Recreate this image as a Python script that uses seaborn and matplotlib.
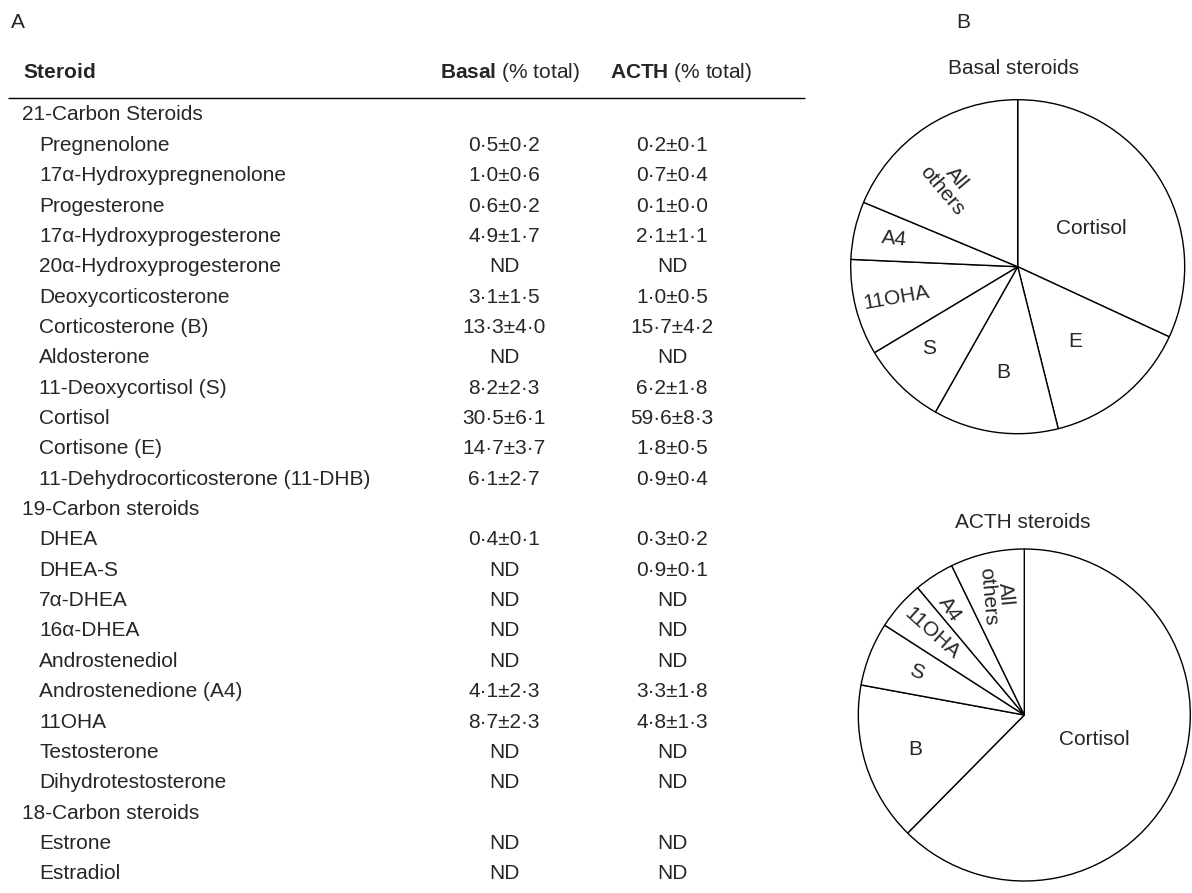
import matplotlib
matplotlib.use("Agg")
import numpy as np
import pandas as pd
import matplotlib.pyplot as plt
import seaborn as sns

# ---------------------------------------------------------------- data
groups = ["21-Carbon Steroids", "19-Carbon steroids", "18-Carbon steroids"]

steroids_21 = ["Pregnenolone", "17\u03b1-Hydroxypregnenolone", "Progesterone",
               "17\u03b1-Hydroxyprogesterone", "20\u03b1-Hydroxyprogesterone",
               "Deoxycorticosterone", "Corticosterone (B)", "Aldosterone",
               "11-Deoxycortisol (S)", "Cortisol", "Cortisone (E)",
               "11-Dehydrocorticosterone (11-DHB)"]
basal_mean_21 = [0.5, 1.0, 0.6, 4.9, None, 3.1, 13.3, None, 8.2, 30.5, 14.7, 6.1]
basal_sd_21 = [0.2, 0.6, 0.2, 1.7, None, 1.5, 4.0, None, 2.3, 6.1, 3.7, 2.7]
acth_mean_21 = [0.2, 0.7, 0.1, 2.1, None, 1.0, 15.7, None, 6.2, 59.6, 1.8, 0.9]
acth_sd_21 = [0.1, 0.4, 0.0, 1.1, None, 0.5, 4.2, None, 1.8, 8.3, 0.5, 0.4]

steroids_19 = ["DHEA", "DHEA-S", "7\u03b1-DHEA", "16\u03b1-DHEA", "Androstenediol",
               "Androstenedione (A4)", "11OHA", "Testosterone",
               "Dihydrotestosterone"]
basal_mean_19 = [0.4, None, None, None, None, 4.1, 8.7, None, None]
basal_sd_19 = [0.1, None, None, None, None, 2.3, 2.3, None, None]
acth_mean_19 = [0.3, 0.9, None, None, None, 3.3, 4.8, None, None]
acth_sd_19 = [0.2, 0.1, None, None, None, 1.8, 1.3, None, None]

steroids_18 = ["Estrone", "Estradiol"]
basal_mean_18 = [None, None]
basal_sd_18 = [None, None]
acth_mean_18 = [None, None]
acth_sd_18 = [None, None]

# pie shares (% of total) for the two conditions
basal_labels = ["Cortisol", "E", "B", "S", "11OHA", "A4", "All\nothers"]
basal_share = [31.9, 14.2, 12.1, 8.2, 9.3, 5.6, 18.7]
acth_labels = ["Cortisol", "B", "S", "11OHA", "A4", "All\nothers"]
acth_share = [62.4, 15.5, 6.2, 4.8, 3.9, 7.2]


def fmt(mean, sd):
    if mean is None:
        return "ND"
    return f"{mean:.1f}\u00b1{sd:.1f}".replace(".", "\u00b7")


rows = []
for grp, names, bm, bs, am, asd in [
        (groups[0], steroids_21, basal_mean_21, basal_sd_21, acth_mean_21, acth_sd_21),
        (groups[1], steroids_19, basal_mean_19, basal_sd_19, acth_mean_19, acth_sd_19),
        (groups[2], steroids_18, basal_mean_18, basal_sd_18, acth_mean_18, acth_sd_18)]:
    rows.append(dict(label=grp, kind="group", basal="", acth=""))
    for n, m1, s1, m2, s2 in zip(names, bm, bs, am, asd):
        rows.append(dict(label=n, kind="item", basal=fmt(m1, s1), acth=fmt(m2, s2)))
table = pd.DataFrame(rows)

# ---------------------------------------------------------------- style
sns.set_theme(style="white")
plt.rcParams["font.family"] = ["Liberation Sans", "DejaVu Sans"]
plt.rcParams["mathtext.fontset"] = "custom"
plt.rcParams["mathtext.rm"] = "Liberation Sans"
plt.rcParams["mathtext.bf"] = "Liberation Sans:bold"

W, H = 1192, 893
FS = 15
fig = plt.figure(figsize=(W / 100, H / 100), dpi=100)
fig.patch.set_facecolor("white")

# canvas axes in pixel units for the table and panel letters
tab = fig.add_axes([0, 0, 1, 1])
tab.set_xlim(0, W)
tab.set_ylim(H, 0)
tab.axis("off")

BASE = 0.36 * FS * 100 / 72  # half cap height -> baseline offset (px)
ROW0, STEP = 113.0, 30.35
X_GROUP, X_ITEM = 22, 39
X_BASAL, X_ACTH = 504, 672

tab.text(11, 20 + BASE, "A", fontsize=FS, va="baseline", ha="left")
tab.text(956, 20 + BASE, "B", fontsize=FS, va="baseline", ha="left")

hy = 70 + BASE
tab.text(23, hy, r"$\mathbf{Steroid}$", fontsize=FS, va="baseline")
tab.text(440, hy, r"$\mathbf{Basal}$ (% total)", fontsize=FS, va="baseline")
tab.text(610, hy, r"$\mathbf{ACTH}$ (% total)", fontsize=FS, va="baseline")
tab.plot([8, 805], [97.5, 97.5], color="black", lw=1.0, solid_capstyle="butt")

for i, r in table.iterrows():
    y = ROW0 + STEP * i + BASE
    x = X_GROUP if r["kind"] == "group" else X_ITEM
    tab.text(x, y, r["label"], fontsize=FS, va="baseline", ha="left")
    if r["basal"]:
        tab.text(X_BASAL, y, r["basal"], fontsize=FS, va="baseline", ha="center")
        tab.text(X_ACTH, y, r["acth"], fontsize=FS, va="baseline", ha="center")


def pie_panel(cx, cy, rad, shares, labels, title, title_xy, rfac, dang, rots):
    pad = 1.04
    ax = fig.add_axes([(cx - rad * pad) / W, 1 - (cy + rad * pad) / H,
                       2 * rad * pad / W, 2 * rad * pad / H])
    wedges, _ = ax.pie(shares, radius=1, startangle=90, counterclock=False,
                       wedgeprops=dict(facecolor="white", edgecolor="black",
                                       linewidth=1.0))
    ax.set_xlim(-pad, pad)
    ax.set_ylim(-pad, pad)
    ax.set_aspect("equal")
    ax.axis("off")
    for w, lab, rf, da, rot in zip(wedges, labels, rfac, dang, rots):
        th = np.deg2rad((w.theta1 + w.theta2) / 2 + da)
        ax.text(rf * np.cos(th), rf * np.sin(th), lab, fontsize=FS,
                ha="center", va="center", rotation=rot,
                rotation_mode="anchor", linespacing=0.95)
    tab.text(title_xy[0], title_xy[1] + BASE, title, fontsize=FS,
             ha="center", va="baseline")


pie_panel(1017.7, 266.7, 167, basal_share, basal_labels, "Basal steroids",
          (1014, 67),
          rfac=[0.50, 0.565, 0.64, 0.72, 0.75, 0.76, 0.64],
          dang=[-5, -2, 0, -3, 0, 0, 6],
          rots=[0, 0, 0, 0, 10, -6, -50])

pie_panel(1024.3, 715, 166, acth_share, acth_labels, "ACTH steroids",
          (1023, 521),
          rfac=[0.45, 0.69, 0.70, 0.74, 0.78, 0.74],
          dang=[3, 0, 0, 0, 2, 0],
          rots=[0, 0, -20, -42, -55, -85])

fig.savefig("out.png", dpi=100, facecolor="white")
